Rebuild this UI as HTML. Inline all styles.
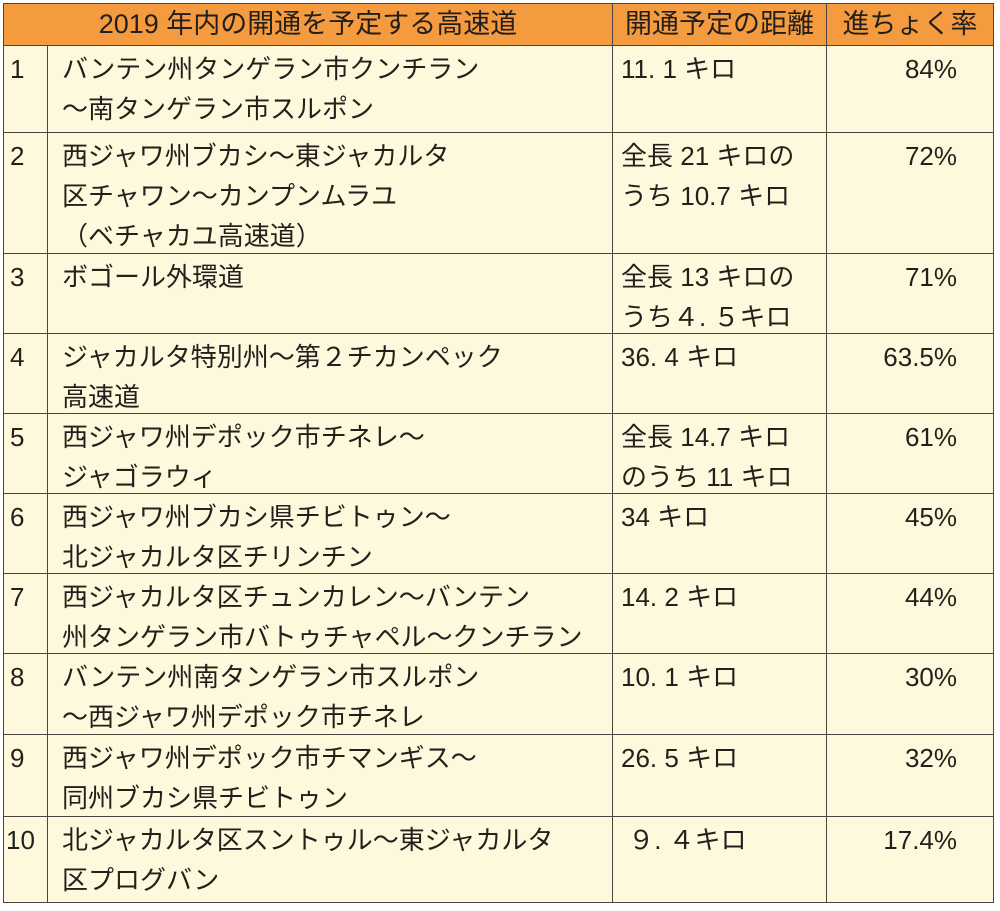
<!DOCTYPE html>
<html><head><meta charset="utf-8"><style>
body{margin:0;width:1000px;height:911px;background:#fff;font-family:"Liberation Sans","Noto Sans CJK JP",sans-serif;color:#231f1c;}
table{position:absolute;left:3px;top:3px;border-collapse:collapse;table-layout:fixed;width:990px;background:#fef9dc;}
td,th{border:1.5px solid #4a4540;vertical-align:top;font-size:26px;line-height:40px;padding:0;font-weight:normal;}
th{background:#f39b3e;height:41px;line-height:41px;text-align:center;font-size:27px;}
td>div{overflow:hidden;padding-top:3px;box-sizing:border-box;}
td.n>div{padding-left:6px}
td.t>div{padding-left:14px;white-space:nowrap}
td.d>div{padding-left:8px;white-space:nowrap}
td.p>div{text-align:right;padding-right:36px}
</style></head><body>
<table id="tb">
<colgroup><col style="width:44px"><col style="width:565px"><col style="width:214px"><col style="width:167px"></colgroup>
<tr><th colspan="2">2019 年内の開通を予定する高速道</th><th>開通予定の距離</th><th>進ちょく率</th></tr>
<tr data-h="86"><td class="n"><div>1</div></td><td class="t"><div>バンテン州タンゲラン市クンチラン<br>〜南タンゲラン市スルポン</div></td><td class="d"><div>11. 1 キロ</div></td><td class="p"><div>84%</div></td></tr>
<tr data-h="120"><td class="n"><div>2</div></td><td class="t"><div>西ジャワ州ブカシ〜東ジャカルタ<br>区チャワン〜カンプンムラユ<br>（ベチャカユ高速道）</div></td><td class="d"><div>全長 21 キロの<br>うち 10.7 キロ</div></td><td class="p"><div>72%</div></td></tr>
<tr data-h="79"><td class="n"><div>3</div></td><td class="t"><div>ボゴール外環道</div></td><td class="d"><div>全長 13 キロの<br>うち４. ５キロ</div></td><td class="p"><div>71%</div></td></tr>
<tr data-h="79"><td class="n"><div>4</div></td><td class="t"><div>ジャカルタ特別州〜第２チカンペック<br>高速道</div></td><td class="d"><div>36. 4 キロ</div></td><td class="p"><div>63.5%</div></td></tr>
<tr data-h="79"><td class="n"><div>5</div></td><td class="t"><div>西ジャワ州デポック市チネレ〜<br>ジャゴラウィ</div></td><td class="d"><div>全長 14.7 キロ<br>のうち 11 キロ</div></td><td class="p"><div>61%</div></td></tr>
<tr data-h="79"><td class="n"><div>6</div></td><td class="t"><div>西ジャワ州ブカシ県チビトゥン〜<br>北ジャカルタ区チリンチン</div></td><td class="d"><div>34 キロ</div></td><td class="p"><div>45%</div></td></tr>
<tr data-h="79"><td class="n"><div>7</div></td><td class="t"><div>西ジャカルタ区チュンカレン〜バンテン<br>州タンゲラン市バトゥチャペル〜クンチラン</div></td><td class="d"><div>14. 2 キロ</div></td><td class="p"><div>44%</div></td></tr>
<tr data-h="80"><td class="n"><div>8</div></td><td class="t"><div>バンテン州南タンゲラン市スルポン<br>〜西ジャワ州デポック市チネレ</div></td><td class="d"><div>10. 1 キロ</div></td><td class="p"><div>30%</div></td></tr>
<tr data-h="81"><td class="n"><div>9</div></td><td class="t"><div>西ジャワ州デポック市チマンギス〜<br>同州ブカシ県チビトゥン</div></td><td class="d"><div>26. 5 キロ</div></td><td class="p"><div>32%</div></td></tr>
<tr data-h="85"><td class="n"><div style="padding-left:2px">10</div></td><td class="t"><div>北ジャカルタ区スントゥル〜東ジャカルタ<br>区プログバン</div></td><td class="d"><div>&nbsp;９. ４キロ</div></td><td class="p"><div>17.4%</div></td></tr>
</table>
<script>
document.querySelectorAll('tr[data-h]').forEach(function(tr){
  var h=tr.getAttribute('data-h');
  tr.querySelectorAll('td>div').forEach(function(d){d.style.height=h+'px';});
});
</script>
</body></html>
